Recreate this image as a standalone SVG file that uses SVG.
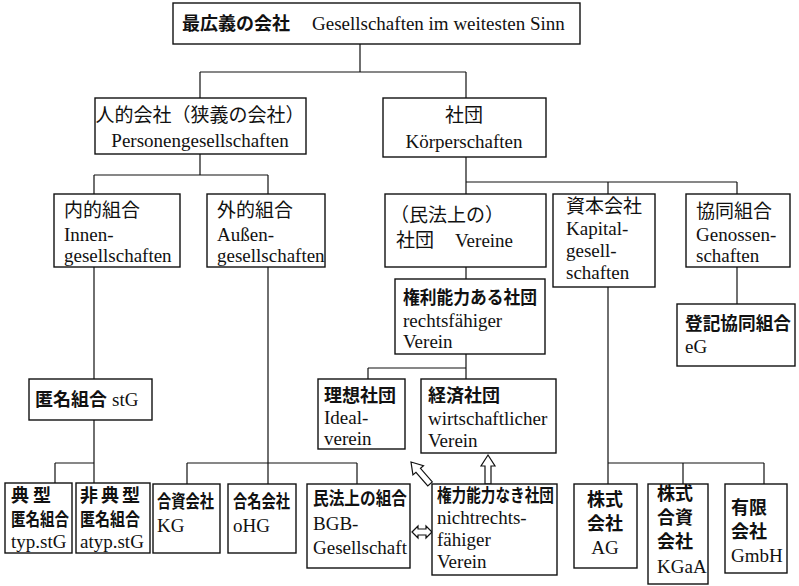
<svg xmlns="http://www.w3.org/2000/svg" width="799" height="586" viewBox="0 0 799 586">
<defs>
<style>
.b{fill:#fff;stroke:#111;stroke-width:1.4}
.c{stroke:#111;stroke-width:1.2;fill:none}
.a{fill:#fff;stroke:#111;stroke-width:1.2;stroke-linejoin:miter}
text{fill:#111}
.l{font-family:"Liberation Serif","Times New Roman",serif;font-size:19px}
.j{font-family:"Noto Sans CJK JP","Noto Sans CJK SC",sans-serif;font-size:19px;font-weight:400}
.jb{font-family:"Noto Sans CJK JP","Noto Sans CJK SC",sans-serif;font-size:18px;font-weight:700}
.m{text-anchor:middle}
</style>
<polygon id="ha" class="a" points="0,0 7,11 3,11 3,29 -3,29 -3,11 -7,11"/>
</defs>
<rect width="799" height="586" fill="#fff"/>
<g id="connectors">
<path class="c" d="M360 44V72M200 72H466M200 72V98M466 72V98"/>
<path class="c" d="M200 154V175M94 175H268M94 175V194M268 175V194"/>
<path class="c" d="M466 157V194M466 182H737M608 182V194M737 182V194"/>
<path class="c" d="M466 267V279M466 354V368M368 368H466M368 368V379M466 368V379"/>
<path class="c" d="M737 267V304"/>
<path class="c" d="M94 267V379M94 420V483M55 463H94M55 463V483"/>
<path class="c" d="M268 267V484M187 463H357M187 463V484M357 463V484"/>
<path class="c" d="M608 287V484M608 463H764M683 463V484M764 463V484"/>
<use href="#ha" transform="translate(488,455)"/>
<use href="#ha" transform="translate(411,462) rotate(-41)"/>
<polygon class="a" points="412,532 418,526 418,529 426,529 426,526 432,532 426,538 426,535 418,535 418,538"/>
</g>
<g id="n-top"><rect class="b" x="173" y="3" width="407" height="41"/>
<text y="30"><tspan class="jb" x="182" font-size="19.5">最広義の会社</tspan><tspan class="l" x="312">Gesellschaften im weitesten Sinn</tspan></text></g>
<g id="n-personen"><rect class="b" x="95" y="98" width="211" height="56"/>
<text class="j m" x="200" y="122" font-size="18">人的会社（狭義の会社）</text>
<text class="l m" x="200" y="147">Personengesellschaften</text></g>
<g id="n-koerper"><rect class="b" x="383" y="98" width="163" height="59"/>
<text class="j m" x="464" y="122">社団</text>
<text class="l m" x="464" y="148">Körperschaften</text></g>
<g id="n-innen"><rect class="b" x="54" y="194" width="126" height="73"/>
<text class="j" x="64" y="217" font-size="20">内的組合</text>
<text class="l" x="64" y="241">Innen-</text>
<text class="l" x="64" y="262">gesellschaften</text></g>
<g id="n-aussen"><rect class="b" x="207" y="194" width="118" height="73"/>
<text class="j" x="217" y="217" font-size="20">外的組合</text>
<text class="l" x="217" y="241">Außen-</text>
<text class="l" x="217" y="262">gesellschaften</text></g>
<g id="n-vereine"><rect class="b" x="385" y="194" width="161" height="73"/>
<text class="j" x="390" y="222">（民法上の）</text>
<text y="247"><tspan class="j" x="396">社団</tspan><tspan class="l" x="455">Vereine</tspan></text></g>
<g id="n-kapital"><rect class="b" x="553" y="194" width="102" height="93"/>
<text class="j" x="566" y="213">資本会社</text>
<text class="l" x="566" y="235">Kapital-</text>
<text class="l" x="566" y="257">gesell-</text>
<text class="l" x="566" y="279">schaften</text></g>
<g id="n-genossen"><rect class="b" x="686" y="194" width="104" height="73"/>
<text class="j" x="696" y="218">協同組合</text>
<text class="l" x="696" y="241">Genossen-</text>
<text class="l" x="696" y="262">schaften</text></g>
<g id="n-rechtsf"><rect class="b" x="395" y="279" width="150" height="75"/>
<text class="jb" x="403" y="304" textLength="134" lengthAdjust="spacingAndGlyphs">権利能力ある社団</text>
<text class="l" x="403" y="327">rechtsfähiger</text>
<text class="l" x="403" y="348">Verein</text></g>
<g id="n-eg"><rect class="b" x="677" y="304" width="118" height="62"/>
<text class="jb" x="685" y="330" textLength="106" lengthAdjust="spacingAndGlyphs">登記協同組合</text>
<text class="l" x="685" y="353">eG</text></g>
<g id="n-stg"><rect class="b" x="29" y="379" width="123" height="41"/>
<text y="406"><tspan class="jb" x="35">匿名組合</tspan><tspan class="l" x="112">stG</tspan></text></g>
<g id="n-ideal"><rect class="b" x="318" y="379" width="87" height="70"/>
<text class="jb" x="324" y="402">理想社団</text>
<text class="l" x="324" y="424">Ideal-</text>
<text class="l" x="324" y="445">verein</text></g>
<g id="n-wirt"><rect class="b" x="421" y="379" width="135" height="74"/>
<text class="jb" x="428" y="402">経済社団</text>
<text class="l" x="428" y="425">wirtschaftlicher</text>
<text class="l" x="428" y="447">Verein</text></g>
<g id="n-typ"><rect class="b" x="5" y="483" width="67" height="70"/>
<text class="jb" x="11" y="502" font-size="15" letter-spacing="4">典型</text>
<text class="jb" x="11" y="526" font-size="14.5" textLength="58" lengthAdjust="spacingAndGlyphs">匿名組合</text>
<text class="l" x="11" y="548">typ.stG</text></g>
<g id="n-atyp"><rect class="b" x="76" y="483" width="74" height="70"/>
<text class="jb" x="80" y="502" font-size="15" letter-spacing="3">非典型</text>
<text class="jb" x="80" y="526" font-size="14.5" textLength="60" lengthAdjust="spacingAndGlyphs">匿名組合</text>
<text class="l" x="80" y="548">atyp.stG</text></g>
<g id="n-kg"><rect class="b" x="153" y="484" width="67" height="69"/>
<text class="jb" x="157" y="508" textLength="57" lengthAdjust="spacingAndGlyphs">合資会社</text>
<text class="l" x="157" y="532">KG</text></g>
<g id="n-ohg"><rect class="b" x="228" y="484" width="68" height="69"/>
<text class="jb" x="233" y="508" textLength="57" lengthAdjust="spacingAndGlyphs">合名会社</text>
<text class="l" x="233" y="532">oHG</text></g>
<g id="n-bgb"><rect class="b" x="307" y="484" width="103" height="84"/>
<text class="jb" x="313" y="505" textLength="94" lengthAdjust="spacingAndGlyphs">民法上の組合</text>
<text class="l" x="313" y="530">BGB-</text>
<text class="l" x="313" y="554">Gesellschaft</text></g>
<g id="n-nichtr"><rect class="b" x="432" y="484" width="125" height="91"/>
<text class="jb" x="437" y="502" textLength="117" lengthAdjust="spacingAndGlyphs">権力能力なき社団</text>
<text class="l" x="437" y="524">nichtrechts-</text>
<text class="l" x="437" y="546">fähiger</text>
<text class="l" x="437" y="568">Verein</text></g>
<g id="n-ag"><rect class="b" x="574" y="484" width="63" height="84"/>
<text class="jb m" x="605" y="506" font-size="16">株式</text>
<text class="jb m" x="605" y="530" font-size="16">会社</text>
<text class="l m" x="605" y="554">AG</text></g>
<g id="n-kgaa"><rect class="b" x="648" y="484" width="60" height="100"/>
<text class="jb" x="657" y="500" font-size="16">株式</text>
<text class="jb" x="657" y="524" font-size="16">合資</text>
<text class="jb" x="657" y="548" font-size="16">会社</text>
<text class="l" x="657" y="573">KGaA</text></g>
<g id="n-gmbh"><rect class="b" x="725" y="484" width="62" height="89"/>
<text class="jb" x="731" y="514" font-size="16">有限</text>
<text class="jb" x="731" y="538" font-size="16">会社</text>
<text class="l" x="731" y="562">GmbH</text></g>
</svg>
